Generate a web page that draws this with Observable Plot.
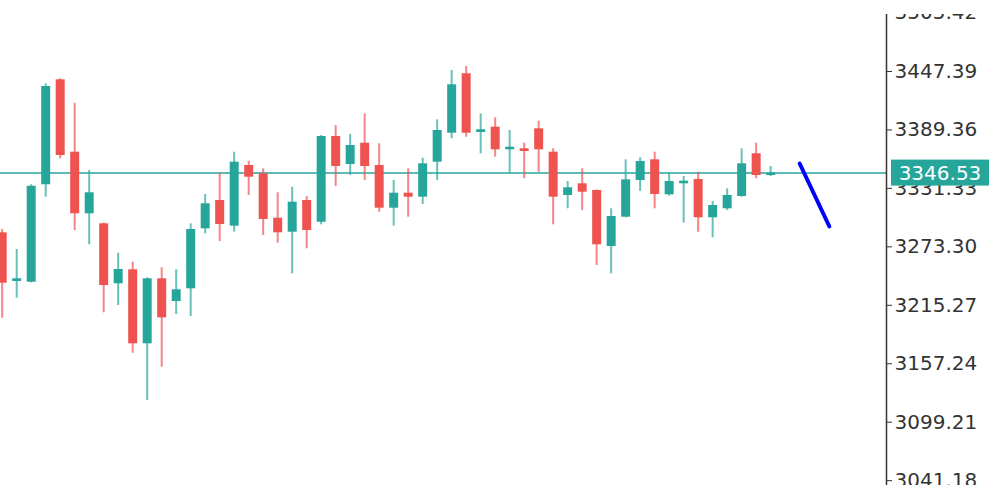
<!DOCTYPE html>
<html>
<head>
<meta charset="utf-8">
<script src="https://cdn.jsdelivr.net/npm/d3@7"></script>
<script src="https://cdn.jsdelivr.net/npm/@observablehq/plot@0.6"></script>
<style>
  html, body { margin: 0; padding: 0; background: #fff; }
  #chart svg { display: block; clip-path: inset(14px 0 0 0); }
</style>
</head>
<body>
<div id="chart"></div>
<script>
// OHLC values (54 candles)
const opens = [3287.25, 3238.90, 3238.21, 3334.91, 3439.15, 3367.27, 3306.12, 3296.19, 3236.62, 3250.52,
  3177.05, 3241.58, 3219.05, 3231.66, 3291.22, 3319.32, 3293.81, 3354.07, 3345.83, 3301.75,
  3287.85, 3319.32, 3297.78, 3382.86, 3355.06, 3376.21, 3354.07, 3311.68, 3326.57, 3322.60,
  3357.34, 3386.14, 3445.11, 3386.83, 3392.09, 3369.65, 3370.65, 3390.50, 3367.27, 3324.28,
  3335.90, 3329.25, 3273.65, 3302.74, 3339.18, 3359.73, 3324.98, 3335.90, 3340.17, 3302.14,
  3311.08, 3323.29, 3365.68, 3344.14];
const highs = [3290.53, 3270.67, 3334.91, 3435.18, 3440.14, 3415.92, 3349.10, 3297.00, 3267.00, 3258.06,
  3242.50, 3252.50, 3250.52, 3296.19, 3325.28, 3346.42, 3367.27, 3358.34, 3350.79, 3326.96,
  3332.52, 3323.29, 3383.85, 3393.78, 3384.84, 3405.40, 3375.61, 3339.18, 3350.79, 3361.32,
  3399.44, 3448.38, 3452.36, 3405.40, 3401.42, 3388.82, 3376.21, 3398.05, 3370.65, 3338.18,
  3350.79, 3329.80, 3311.08, 3359.73, 3361.71, 3367.27, 3346.42, 3343.15, 3347.42, 3318.33,
  3330.94, 3370.65, 3376.21, 3353.08];
const lows = [3202.47, 3222.32, 3237.61, 3322.60, 3360.72, 3289.54, 3275.34, 3207.83, 3215.08, 3167.72,
  3120.76, 3153.82, 3206.14, 3204.16, 3286.26, 3278.62, 3287.85, 3324.28, 3284.57, 3276.93,
  3246.55, 3271.37, 3295.19, 3333.22, 3344.14, 3339.18, 3307.70, 3293.81, 3302.74, 3315.35,
  3339.18, 3380.58, 3382.16, 3365.68, 3362.31, 3346.42, 3340.86, 3347.42, 3295.19, 3311.08,
  3309.39, 3254.79, 3246.55, 3302.00, 3328.26, 3311.08, 3323.59, 3296.78, 3287.85, 3282.29,
  3309.39, 3322.60, 3340.86, 3343.15];
const closes = [3237.22, 3241.58, 3333.52, 3432.50, 3364.00, 3306.12, 3326.96, 3234.93, 3250.82, 3177.05,
  3241.58, 3202.86, 3230.66, 3290.53, 3316.04, 3295.49, 3357.34, 3342.45, 3300.46, 3287.25,
  3317.63, 3289.54, 3382.86, 3353.08, 3373.92, 3353.08, 3311.68, 3326.57, 3322.60, 3355.76,
  3388.82, 3434.19, 3386.14, 3389.51, 3369.65, 3372.24, 3367.97, 3369.65, 3322.60, 3331.93,
  3327.56, 3275.34, 3303.44, 3339.87, 3358.04, 3325.28, 3338.18, 3338.48, 3302.14, 3314.36,
  3324.28, 3355.76, 3344.14, 3346.53];

// price axis tick labels
const yTicks = [3505.42, 3447.39, 3389.36, 3331.33, 3273.30, 3215.27, 3157.24, 3099.21, 3041.18];

// current price
const lastPrice = 3346.53;

// hand-drawn trend line (bar index, price)
const trendBars = [55.0, 57.05];
const trendPrices = [3356.05, 3293.51];

const UP = "#26a69a";
const DOWN = "#ef5350";

const candles = opens.map((o, i) => ({
  i, open: o, high: highs[i], low: lows[i], close: closes[i],
  up: closes[i] >= o
}));
const trend = trendBars.map((b, k) => ({i: b, p: trendPrices[k]}));

function priceLabel(index, scales, values, dimensions) {
  const y = scales.y(lastPrice);
  const x0 = dimensions.width - dimensions.marginRight + 5;
  const g = d3.create("svg:g");
  g.append("rect")
    .attr("x", x0).attr("y", y - 13)
    .attr("width", 98).attr("height", 26)
    .attr("fill", UP);
  g.append("text")
    .attr("x", x0 + 49).attr("y", y)
    .attr("text-anchor", "middle")
    .attr("dy", "0.36em")
    .attr("fill", "#fff")
    .attr("font-size", 20)
    .text(lastPrice.toFixed(2));
  return g.node();
}

const chart = Plot.plot({
  width: 1000,
  height: 485,
  marginLeft: 0,
  marginRight: 114,
  marginTop: 0,
  marginBottom: 0,
  style: {fontFamily: "'DejaVu Sans', sans-serif", fontSize: "20px", color: "#333", background: "#fff"},
  x: {domain: [-0.117, 60.99], axis: null},
  y: {domain: [3036.37, 3517.88], axis: null},
  marks: [
    Plot.ruleY([lastPrice], {stroke: UP, strokeOpacity: 0.75, strokeWidth: 2}),
    Plot.ruleX(candles, {x: "i", y1: "low", y2: "high", stroke: d => d.up ? UP : DOWN, strokeWidth: 2, strokeOpacity: 0.7}),
    Plot.ruleX(candles, {x: "i", y1: "open", y2: "close", stroke: d => d.up ? UP : DOWN, strokeWidth: 9}),
    Plot.line(trend, {x: "i", y: "p", stroke: "#0000ff", strokeWidth: 4, strokeLinecap: "round"}),
    Plot.axisY(yTicks, {anchor: "right", tickSize: 5, tickPadding: 3, tickFormat: d => d.toFixed(2), fontSize: 20, fill: "#333", stroke: "#333"}),
    Plot.frame({anchor: "right", stroke: "#333", strokeWidth: 1.5}),
    priceLabel
  ]
});

document.getElementById("chart").appendChild(chart);
</script>
</body>
</html>
